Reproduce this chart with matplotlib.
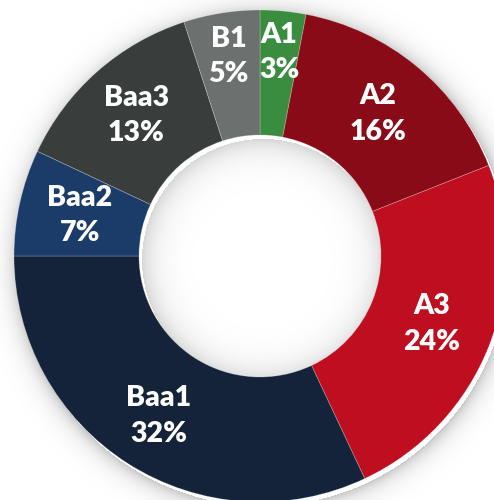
#donut chart of rating breakdown
import matplotlib
matplotlib.use("Agg")
import matplotlib.pyplot as plt
import numpy as np

#data, clockwise from 12 o'clock
ratings = ["A1", "A2", "A3", "Baa1", "Baa2", "Baa3", "B1"]
shares = [3, 16, 24, 32, 7, 13, 5]
colors = ["#3a8c3f", "#8a0b18", "#be0e1f", "#142339", "#1b3b69", "#393d3c", "#6c706f"]

#label distance as fraction of outer radius (small slices sit further out)
label_pos = [0.83, 0.75, 0.75, 0.77, 0.75, 0.76, 0.82]

W, H = 494, 500
CX, CY = 260, H - 256
R_OUT = 246
R_IN = 121

plt.rcParams["font.family"] = ["Lato", "DejaVu Sans"]

fig = plt.figure(figsize=(W / 100, H / 100), dpi=100)
ax = fig.add_axes([0, 0, 1, 1])
ax.set_xlim(0, W)
ax.set_ylim(0, H)
ax.set_aspect("equal")
ax.axis("off")

#soft shadow outside the ring and inside the hole
yy, xx = np.mgrid[0:H, 0:W]
d = np.hypot(xx + 0.5 - CX - 3, (H - yy - 0.5) - CY + 4)
alpha = np.zeros_like(d)
out = d > R_OUT
alpha[out] = 0.22 * np.exp(-(d[out] - R_OUT) / 9)
hole = d < R_IN
alpha[hole] = 0.16 * np.exp(-(R_IN - d[hole]) / 14)
shade = np.zeros((H, W, 4))
shade[..., 3] = alpha
ax.imshow(shade, extent=[0, W, 0, H], zorder=0)

wedges, _ = ax.pie(shares, colors=colors, startangle=90, counterclock=False,
                   center=(CX, CY), radius=R_OUT, frame=True,
                   wedgeprops=dict(width=R_OUT - R_IN, edgecolor=(1, 1, 1, 0.25), linewidth=0.6))
ax.set_xlim(0, W)
ax.set_ylim(0, H)
ax.axis("off")

for w, name, val, f in zip(wedges, ratings, shares, label_pos):
    ang = np.deg2rad((w.theta1 + w.theta2) / 2)
    x = CX + f * R_OUT * np.cos(ang)
    y = CY + f * R_OUT * np.sin(ang)
    ax.text(x, y, f"{name}\n{val}%", ha="center", va="center", color="white",
            fontsize=20.5, fontweight="heavy", linespacing=1.45, zorder=5)

fig.savefig("out.png", dpi=100)
